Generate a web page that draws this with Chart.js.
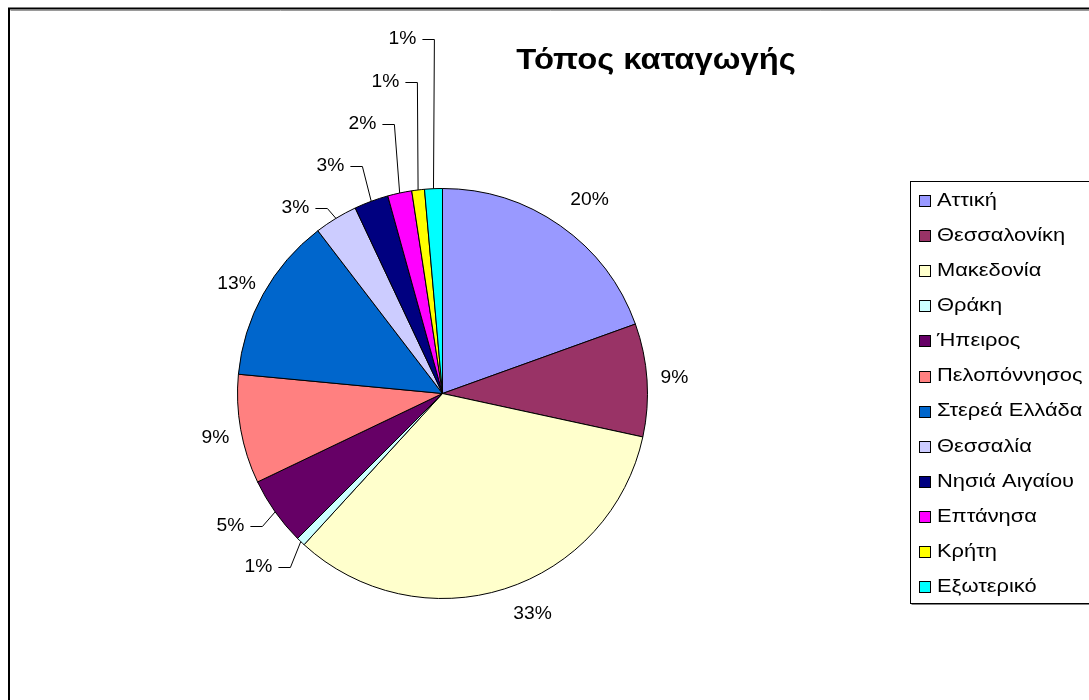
<!DOCTYPE html>
<html lang="el">
<head>
<meta charset="utf-8">
<title>Τόπος καταγωγής</title>
<script src="https://cdn.jsdelivr.net/npm/chart.js@4/dist/chart.umd.min.js"></script>
<style>
  html, body { margin: 0; padding: 0; background: #ffffff; }
  #wrap { width: 1089px; height: 700px; }
</style>
</head>
<body>
<div id="wrap"><canvas id="chart" width="1089" height="700"></canvas></div>
<script>
// Regions of origin and their share of respondents (%)
const categories = ['Αττική', 'Θεσσαλονίκη', 'Μακεδονία', 'Θράκη', 'Ήπειρος', 'Πελοπόννησος',
  'Στερεά Ελλάδα', 'Θεσσαλία', 'Νησιά Αιγαίου', 'Επτάνησα', 'Κρήτη', 'Εξωτερικό'];
const shares = [19.5, 8.9, 33.4, 0.7, 5.4, 8.6, 13.1, 3.4, 2.7, 1.9, 1.0, 1.4];
const sliceColors = ['#9999FF', '#993366', '#FFFFCC', '#CCFFFF', '#660066', '#FF8080',
  '#0066CC', '#CCCCFF', '#000080', '#FF00FF', '#FFFF00', '#00FFFF'];
const chartTitle = 'Τόπος καταγωγής';

// Where each percentage label sits, relative to the pie centre; some get a leader line
const labelSpots = [
  { dx: 147, dy: -194 }, { dx: 232, dy: -16 }, { dx: 90, dy: 220 },
  { dx: -184, dy: 173, leader: true }, { dx: -212, dy: 132, leader: true },
  { dx: -227, dy: 44 }, { dx: -206, dy: -110 },
  { dx: -147, dy: -186, leader: true }, { dx: -112, dy: -228, leader: true },
  { dx: -80, dy: -270, leader: true }, { dx: -57, dy: -312, leader: true },
  { dx: -40, dy: -355, leader: true }
];

const FONT = '"Liberation Sans", Arial, sans-serif';

// draw text stretched horizontally around its anchor
function wideText(ctx, text, x, y, sx) {
  ctx.save();
  ctx.translate(x, y);
  ctx.scale(sx, 1);
  ctx.fillText(text, 0, 0);
  ctx.restore();
}

const decorations = {
  id: 'decorations',
  beforeDraw(chart) {
    const ctx = chart.ctx;
    ctx.save();
    ctx.fillStyle = '#ffffff';
    ctx.fillRect(0, 0, chart.width, chart.height);
    ctx.restore();
  },
  afterDraw(chart) {
    const ctx = chart.ctx;
    const meta = chart.getDatasetMeta(0);
    const values = chart.data.datasets[0].data;
    const total = Math.round(values.reduce((a, b) => a + b, 0) * 1e6) / 1e6;
    ctx.save();

    // outer frame
    ctx.strokeStyle = '#000000';
    ctx.lineWidth = 2;
    ctx.strokeRect(9, 8.5, 2000, 2000);
    ctx.strokeStyle = '#9a9a9a';
    ctx.lineWidth = 1;
    ctx.beginPath();
    ctx.moveTo(10.5, 10.5); ctx.lineTo(2000, 10.5);
    ctx.stroke();

    // title
    ctx.fillStyle = '#000000';
    ctx.font = 'bold 29px ' + FONT;
    ctx.textAlign = 'center';
    ctx.textBaseline = 'alphabetic';
    wideText(ctx, chartTitle, 656, 69, 1.13);

    // percentage labels
    const labelScale = 1.04;
    ctx.font = '18.5px ' + FONT;
    ctx.textBaseline = 'middle';
    ctx.textAlign = 'center';
    ctx.strokeStyle = '#000000';
    ctx.lineWidth = 1;
    meta.data.forEach((arc, i) => {
      const spot = labelSpots[i];
      const pct = Math.round(values[i] * 100 / total) + '%';
      const lx = arc.x + spot.dx;
      const ly = arc.y + spot.dy;
      wideText(ctx, pct, lx, ly, labelScale);
      if (spot.leader) {
        const w = ctx.measureText(pct).width * labelScale;
        const mid = (arc.startAngle + arc.endAngle) / 2;
        const ex = arc.x + arc.outerRadius * Math.cos(mid);
        const ey = arc.y + arc.outerRadius * Math.sin(mid);
        const sx = lx + w / 2 + 6;
        ctx.beginPath();
        ctx.moveTo(sx, Math.round(ly) + 0.5);
        ctx.lineTo(sx + 12, Math.round(ly) + 0.5);
        ctx.lineTo(ex, ey);
        ctx.stroke();
      }
    });

    // legend box
    const boxX = 910.5, boxY = 181.5, boxH = 422;
    ctx.fillStyle = '#ffffff';
    ctx.fillRect(boxX, boxY, 400, boxH);
    ctx.strokeStyle = '#000000';
    ctx.strokeRect(boxX, boxY, 400, boxH);
    ctx.strokeStyle = '#808080';
    ctx.beginPath();
    ctx.moveTo(boxX + 1, boxY + boxH + 1); ctx.lineTo(boxX + 400, boxY + boxH + 1);
    ctx.stroke();

    ctx.font = '17.5px ' + FONT;
    ctx.textAlign = 'left';
    ctx.textBaseline = 'middle';
    chart.data.labels.forEach((label, i) => {
      const cy = 201 + i * 35.1;
      ctx.fillStyle = sliceColors[i];
      ctx.fillRect(919.5, Math.round(cy) - 5.5, 11, 11);
      ctx.strokeStyle = '#000000';
      ctx.strokeRect(919.5, Math.round(cy) - 5.5, 11, 11);
      ctx.fillStyle = '#000000';
      wideText(ctx, label, 937, cy, 1.25);
    });

    ctx.restore();
  }
};

new Chart(document.getElementById('chart'), {
  type: 'pie',
  data: {
    labels: categories,
    datasets: [{
      data: shares,
      backgroundColor: sliceColors,
      borderColor: '#000000',
      borderWidth: 1
    }]
  },
  options: {
    responsive: false,
    devicePixelRatio: 1,
    animation: false,
    layout: { padding: { left: 237, right: 441, top: 188, bottom: 101 } },
    plugins: {
      legend: { display: false },
      title: { display: false },
      tooltip: { enabled: false }
    }
  },
  plugins: [decorations]
});
</script>
</body>
</html>
